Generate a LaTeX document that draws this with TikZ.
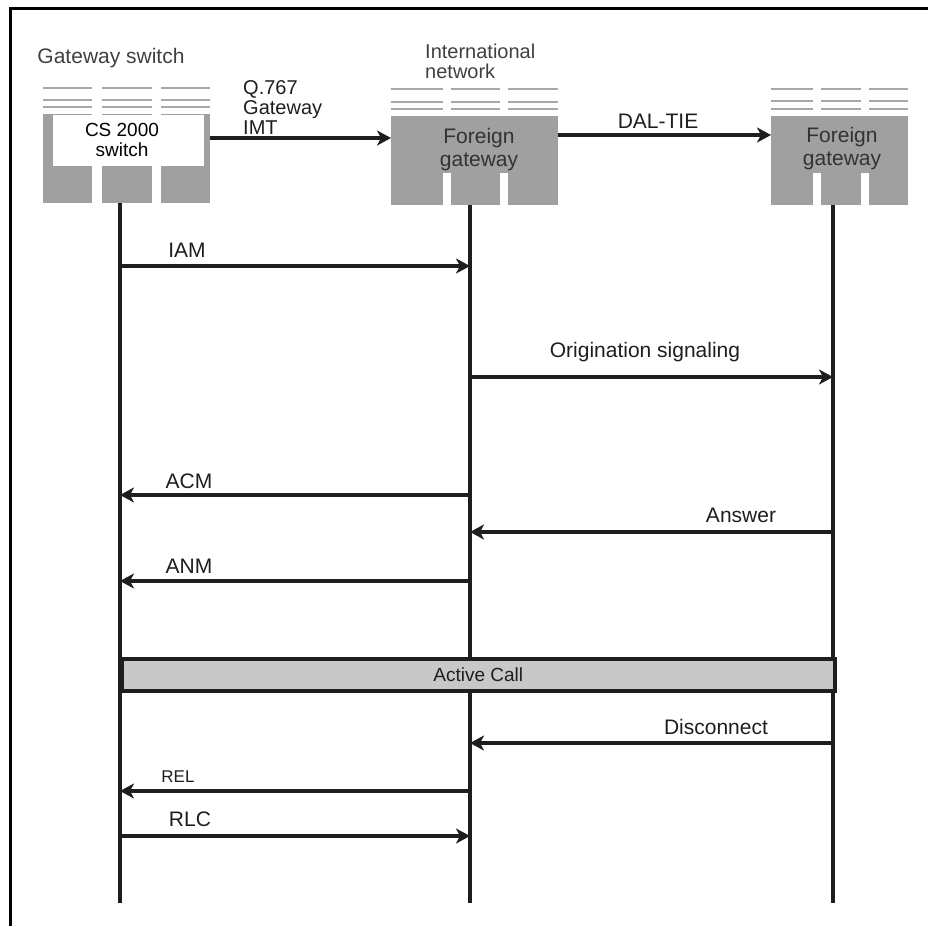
\documentclass[tikz,border=0pt]{standalone}
\usepackage{fontspec}
\setmainfont{Liberation Sans}
\usetikzlibrary{arrows.meta}
\definecolor{boxgray}{RGB}{160,160,160}
\definecolor{stripegray}{RGB}{168,168,168}
\definecolor{callgray}{RGB}{200,200,200}
\definecolor{ink}{RGB}{30,30,30}
\tikzset{
  col/.style={fill=boxgray, draw=none, inner sep=0pt, anchor=north west},
  stripe/.style={draw=stripegray, line width=2pt},
  lbl/.style={font=\fontsize{21}{24}\selectfont, inner sep=0pt, text=ink},
  small/.style={font=\fontsize{17}{20}\selectfont, inner sep=0pt, text=ink},
  life/.style={line width=3.5pt, draw=ink},
  msg/.style={line width=3.5pt, draw=ink, -{Stealth[length=14pt,width=15pt,inset=4pt]}},
  frame/.style={line width=3pt, draw=black},
}
\begin{document}
\begin{tikzpicture}[x=1pt,y=-1pt]
\useasboundingbox (0,0) rectangle (928,926);
% frame
\draw[frame] (10,926) -- (10,8) -- (928,8);

% ---------- Gateway switch group ----------
\node[lbl, text=black!75] (gwtitle) at (111,58) {Gateway switch};
\foreach \a/\b in {43/92,102/152,161/210}{
  \draw[stripe] (\a,88) -- (\b,88);
  \draw[stripe] (\a,100) -- (\b,100);
  \draw[stripe] (\a,107) -- (\b,107);
}
\node[col, minimum width=49pt, minimum height=89pt] (gwL) at (43,114) {};
\node[col, minimum width=50pt, minimum height=89pt] (gwM) at (102,114) {};
\node[col, minimum width=49pt, minimum height=89pt] (gwR) at (161,114) {};
\node[fill=white, inner sep=0pt, anchor=north west, minimum width=151pt, minimum height=51pt] (cs) at (53,115) {};
\node[inner sep=0pt, anchor=north, align=center, text=black,
      font=\fontsize{19}{20}\selectfont] (cstext) at (122,123) {CS 2000\\switch};

% ---------- International network group ----------
\node[inner sep=0pt, anchor=north west, align=left, text=black!75,
      font=\fontsize{20}{20}\selectfont] (intl) at (425,43.5) {International\\network};
\foreach \a/\b in {391/443,451/500,508/558}{
  \draw[stripe] (\a,89) -- (\b,89);
  \draw[stripe] (\a,102) -- (\b,102);
  \draw[stripe] (\a,109) -- (\b,109);
}
\node[col, minimum width=52pt, minimum height=89pt] (fgL) at (391,116) {};
\node[col, minimum width=49pt, minimum height=89pt] (fgM) at (451,116) {};
\node[col, minimum width=50pt, minimum height=89pt] (fgR) at (508,116) {};
\node[col, minimum width=167pt, minimum height=57pt] (fgband) at (391,116) {};
\node[inner sep=0pt, anchor=north, align=center, text=black!80,
      font=\fontsize{21}{23}\selectfont] (fgtext) at (479,128) {Foreign\\gateway};

% ---------- Far foreign gateway group ----------
\foreach \a/\b in {771/813,821/861,869/908}{
  \draw[stripe] (\a,89) -- (\b,89);
  \draw[stripe] (\a,101) -- (\b,101);
  \draw[stripe] (\a,109) -- (\b,109);
}
\node[col, minimum width=42pt, minimum height=89pt] (ffL) at (771,116) {};
\node[col, minimum width=40pt, minimum height=89pt] (ffM) at (821,116) {};
\node[col, minimum width=39pt, minimum height=89pt] (ffR) at (869,116) {};
\node[col, minimum width=137pt, minimum height=57pt] (ffband) at (771,116) {};
\node[inner sep=0pt, anchor=north, align=center, text=black!80,
      font=\fontsize{21}{23}\selectfont] (fftext) at (842,127) {Foreign\\gateway};

% ---------- top links ----------
\coordinate (q1) at (210,138);
\draw[msg] (q1) -- (fgL.west |- q1);
\node[inner sep=0pt, anchor=north west, align=left, text=ink,
      font=\fontsize{20}{20}\selectfont] (qlabel) at (243,80.5) {Q.767\\Gateway\\IMT};
\coordinate (d1) at (558,135);
\draw[msg] (d1) -- (ffL.west |- d1);
\node[lbl] (dal) at (658,121) {DAL-TIE};

% ---------- lifelines ----------
\coordinate (b1) at (120,903);
\coordinate (b2) at (470,903);
\coordinate (b3) at (833,903);
\draw[life] (gwM.south -| b1) -- (b1);
\draw[life] (fgM.south -| b2) -- (b2);
\draw[life] (ffM.south -| b3) -- (b3);

% ---------- messages ----------
\draw[msg] (b1 |- 0,266) -- (b2 |- 0,266);
\node[lbl] (iam) at (187,250) {IAM};

\draw[msg] (b2 |- 0,377) -- (b3 |- 0,377);
\node[lbl] (orig) at (645,352) {Origination signaling};

\draw[msg] (b2 |- 0,495) -- (b1 |- 0,495);
\node[lbl] (acm) at (189,481) {ACM};

\draw[msg] (b3 |- 0,532) -- (b2 |- 0,532);
\node[lbl] (ans) at (741,515) {Answer};

\draw[msg] (b2 |- 0,581) -- (b1 |- 0,581);
\node[lbl] (anm) at (189,566) {ANM};

\node[draw=ink, line width=3.5pt, fill=callgray, inner sep=0pt, anchor=north west,
      minimum width=713pt, minimum height=32pt] (active) at (120,657) {};
\node[lbl, font=\fontsize{19}{22}\selectfont] (activet) at (active.center) {Active Call};

\draw[msg] (b3 |- 0,743) -- (b2 |- 0,743);
\node[lbl] (disc) at (716,727) {Disconnect};

\draw[msg] (b2 |- 0,791) -- (b1 |- 0,791);
\node[small] (rel) at (178,777) {REL};

\draw[msg] (b1 |- 0,836) -- (b2 |- 0,836);
\node[lbl] (rlc) at (190,819) {RLC};
\end{tikzpicture}
\end{document}
